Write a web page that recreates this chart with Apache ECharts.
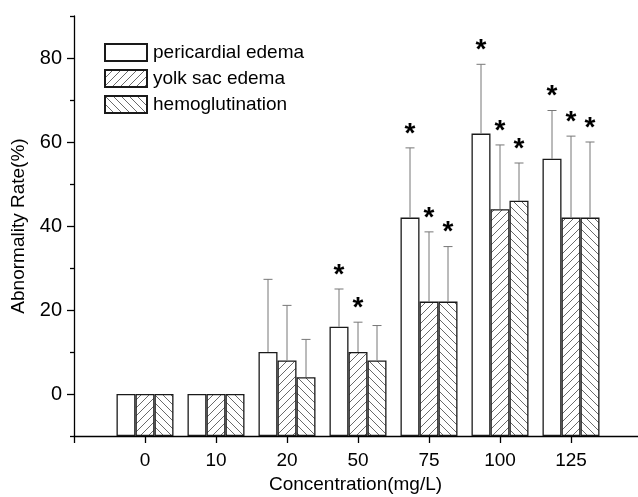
<!DOCTYPE html>
<html><head><meta charset="utf-8">
<script src="https://cdn.jsdelivr.net/npm/echarts@6/dist/echarts.min.js"></script>
<style>html,body{margin:0;padding:0;background:#fff}#c{width:638px;height:497px}</style>
</head><body><div id="c"></div>
<script>
const categories = ['0','10','20','50','75','100','125'];
const seriesNames = ['pericardial edema','yolk sac edema','hemoglutination'];
const pericardial = [0,0,10,16,42,62,56];
const pericardialErr = [0,0,17.3,9,16.6,16.5,11.5];
const pericardialStar = [0,0,0,1,1,1,1];
const yolkSac = [0,0,8,10,22,44,42];
const yolkSacErr = [0,0,13.1,7.1,16.6,15.3,19.4];
const yolkSacStar = [0,0,0,1,1,1,1];
const hemo = [0,0,4,8,22,46,42];
const hemoErr = [0,0,9,8.3,13.1,9,18];
const hemoStar = [0,0,0,0,1,1,1];
const yTicks = [0,20,40,60,80];
const yMinorTicks = [-10,10,30,50,70,90];

const FONT = '"Liberation Sans", Arial, sans-serif';
const FS = 19;
const BAR_W = 19;

function hatch(dir){
  const s = 8, c = document.createElement('canvas');
  c.width = s; c.height = s;
  const g = c.getContext('2d');
  g.fillStyle = '#fff'; g.fillRect(0,0,s,s);
  g.strokeStyle = '#6a6a6a'; g.lineWidth = 1;
  g.beginPath();
  if (dir === '/') {
    g.moveTo(0,s); g.lineTo(s,0);
    g.moveTo(-1,1); g.lineTo(1,-1);
    g.moveTo(s-1,s+1); g.lineTo(s+1,s-1);
  } else {
    g.moveTo(0,0); g.lineTo(s,s);
    g.moveTo(-1,s-1); g.lineTo(1,s+1);
    g.moveTo(s-1,-1); g.lineTo(s+1,1);
  }
  g.stroke();
  return c;
}

const axisCats = [''].concat(categories).concat([' ']);
const fills = ['#ffffff', {image: hatch('/'), repeat:'repeat'}, {image: hatch('\\'), repeat:'repeat'}];
const vals = [pericardial, yolkSac, hemo];
const errs = [pericardialErr, yolkSacErr, hemoErr];
const stars = [pericardialStar, yolkSacStar, hemoStar];

const series = [];
vals.forEach((v, k) => {
  series.push({
    name: seriesNames[k], type: 'bar', barWidth: BAR_W, barGap: '0%',
    itemStyle: {color: fills[k], borderColor: '#1a1a1a', borderWidth: 1.3},
    emphasis: {disabled: true},
    data: v.map((y, i) => [i + 1, y])
  });
});
vals.forEach((v, k) => {
  const off = (k - 1) * BAR_W;
  series.push({
    name: 'err' + k, type: 'custom', z: 5,
    encode: {x: 0, y: 1},
    data: v.map((y, i) => [i + 1, y, errs[k][i], stars[k][i]]),
    renderItem: function(params, api){
      const x = api.value(0), y = api.value(1), e = api.value(2), s = api.value(3);
      const b = api.coord([x, y]), t = api.coord([x, y + e]);
      const cx = b[0] + off;
      const ch = [];
      if (e > 0) {
        ch.push({type:'line', shape:{x1:cx, y1:b[1], x2:cx, y2:t[1]}, style:{stroke:'#777', lineWidth:1}});
        ch.push({type:'line', shape:{x1:cx-4.5, y1:t[1], x2:cx+4.5, y2:t[1]}, style:{stroke:'#777', lineWidth:1}});
      }
      if (s) {
        ch.push({type:'text', x: cx, y: t[1], style:{text:'*', font:'bold 28px ' + FONT, fill:'#000', align:'center', verticalAlign:'bottom'}});
      }
      return {type:'group', children: ch};
    }
  });
});

const chart = echarts.init(document.getElementById('c'), null, {renderer:'canvas'});
chart.setOption({
  animation: false,
  backgroundColor: '#fff',
  grid: {left: 74, top: 16, width: 568, height: 420, containLabel: false, outerBoundsMode: 'none'},
  legend: {
    data: seriesNames, orient: 'vertical', left: 104, top: 43, padding: 0,
    itemWidth: 42, itemHeight: 17, itemGap: 7, icon: 'rect',
    textStyle: {fontFamily: FONT, fontSize: FS, lineHeight: 17, color: '#000', padding: [0,0,0,1]},
    selectedMode: false
  },
  xAxis: {
    type: 'category', data: axisCats, boundaryGap: false,
    axisLine: {onZero: false, lineStyle: {color: '#000', width: 1.3}},
    axisTick: {length: 7, lineStyle: {color: '#000', width: 1.3}},
    axisLabel: {fontFamily: FONT, fontSize: FS, color: '#000', margin: 15},
    splitLine: {show: false},
    name: 'Concentration(mg/L)', nameLocation: 'middle', nameGap: 39,
    nameTextStyle: {fontFamily: FONT, fontSize: FS, color: '#000', padding: [0, 5, 0, 0]}
  },
  yAxis: [{
    type: 'value', min: -10, max: 90, startValue: -10,
    axisLine: {show: true, onZero: false, lineStyle: {color: '#000', width: 1.3}},
    axisTick: {show: true, length: 7, customValues: yTicks, lineStyle: {color: '#000', width: 1.3}},
    axisLabel: {customValues: yTicks, fontFamily: FONT, fontSize: 20, color: '#000', margin: 12},
    splitLine: {show: false},
    name: 'Abnormality Rate(%)', nameLocation: 'middle', nameGap: 46,
    nameTextStyle: {fontFamily: FONT, fontSize: FS, color: '#000'}
  }, {
    type: 'value', min: -10, max: 90, position: 'left', offset: 0,
    axisLine: {show: false},
    axisTick: {show: true, length: 4, customValues: yMinorTicks, lineStyle: {color: '#000', width: 1.3}},
    axisLabel: {show: false},
    splitLine: {show: false}
  }],
  series: series
});
</script>
</body></html>
